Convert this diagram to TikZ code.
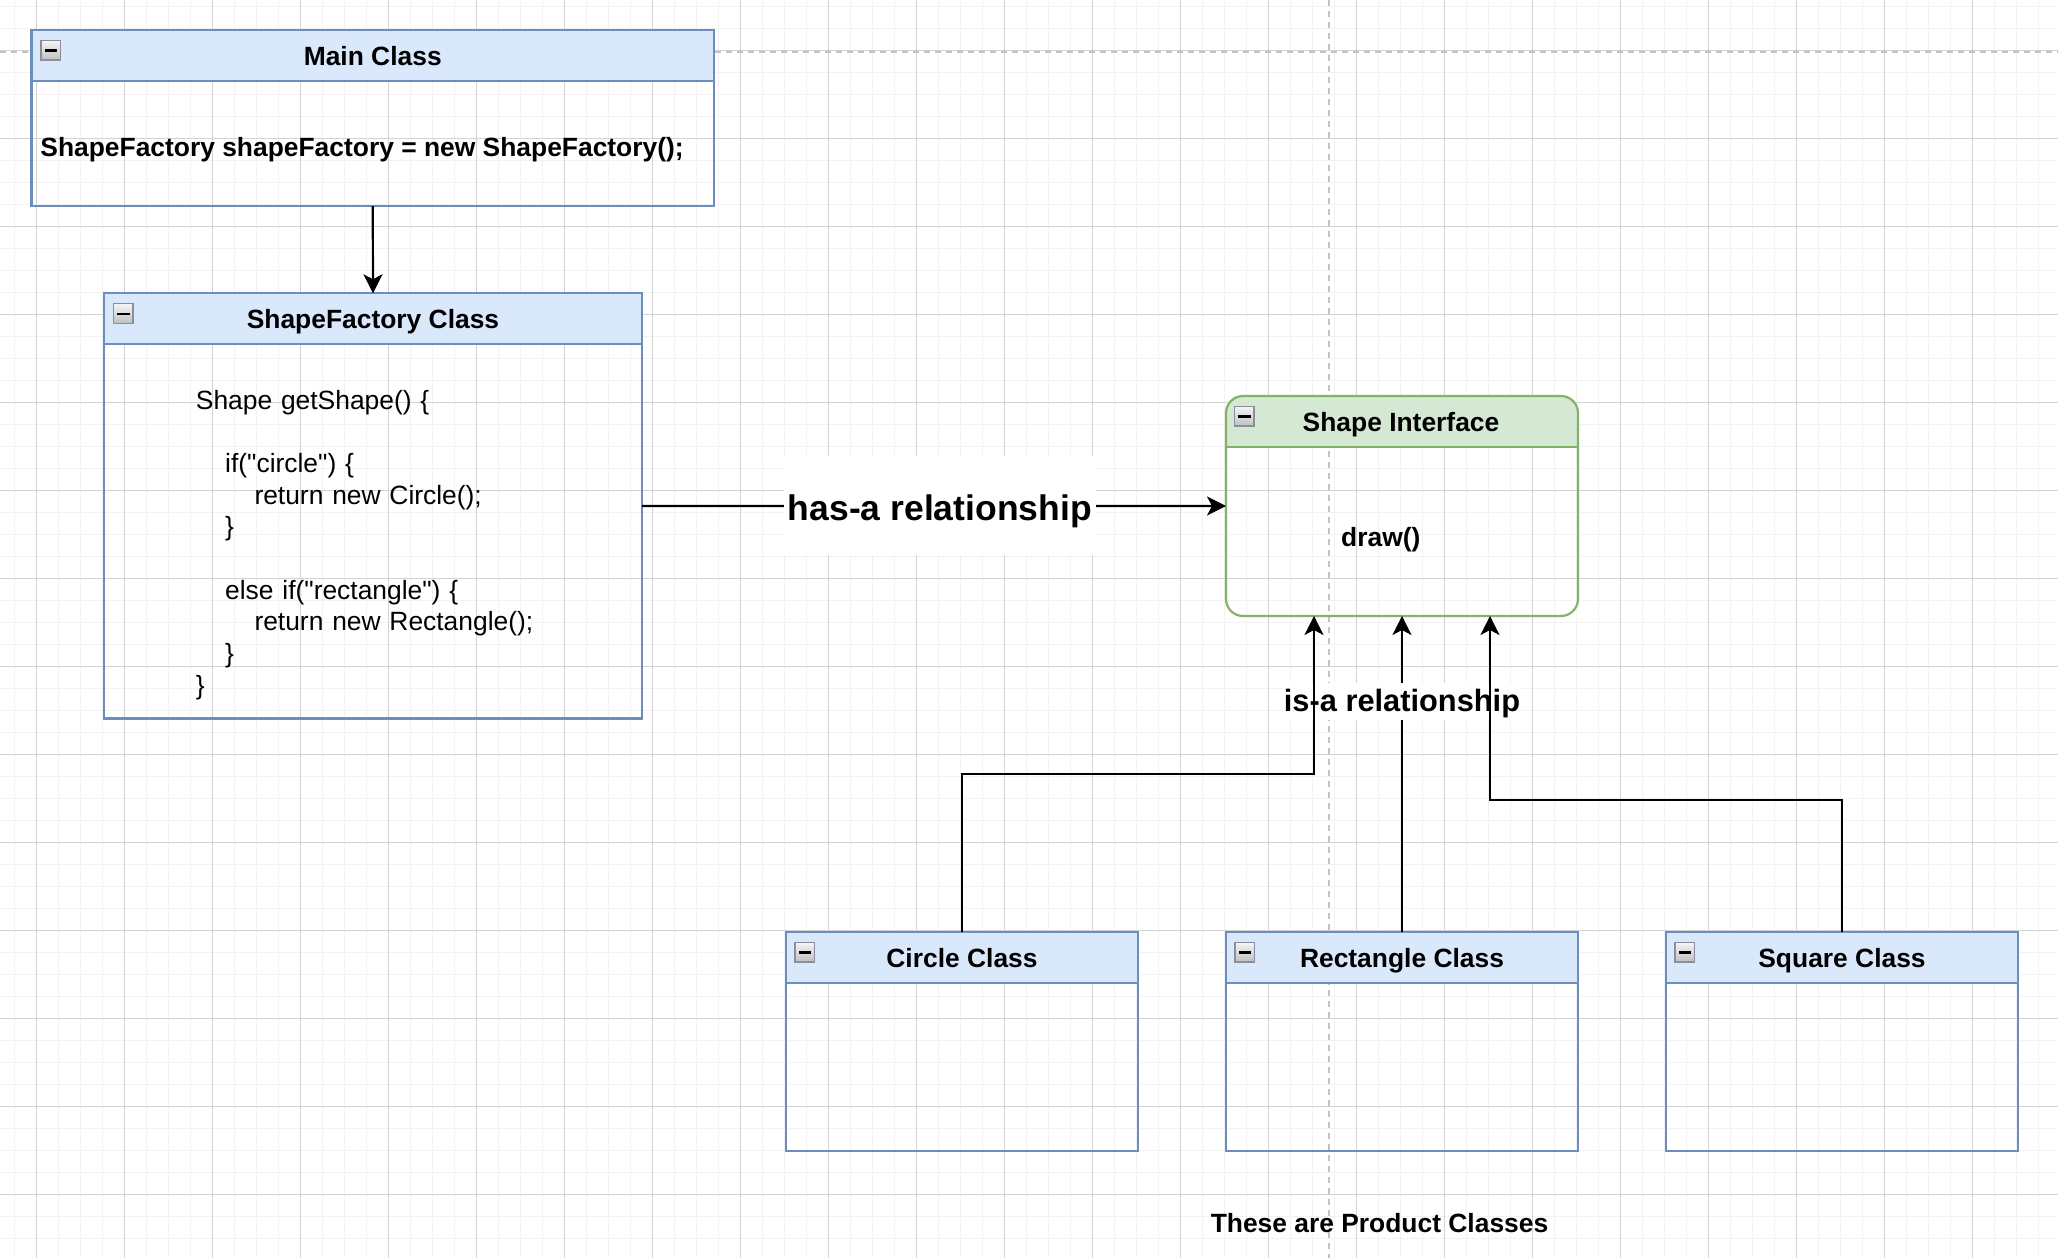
\documentclass[tikz,border=0pt]{standalone}
\usepackage{fontspec}
\setmainfont{Liberation Sans}
\usetikzlibrary{arrows.meta}
\definecolor{bfill}{HTML}{DAE8FC}
\definecolor{bline}{HTML}{6C8EBF}
\definecolor{gfill}{HTML}{D5E8D4}
\definecolor{gline}{HTML}{82B366}
\definecolor{gridmin}{HTML}{F2F2F2}
\definecolor{gridmaj}{HTML}{D3D3D3}
\definecolor{pagebrk}{HTML}{C2C2C2}
\definecolor{iconline}{HTML}{8A8FA0}
\begin{document}
\begin{tikzpicture}[x=1pt,y=-1pt,
  clsbox/.style={draw=bline, line width=2.2pt, inner sep=0pt, outer sep=0pt},
  clshdr/.style={clsbox, fill=bfill, minimum height=50.6pt, anchor=north,
    text height=24pt, text depth=3.6pt, font=\fontsize{26.4}{31.7}\selectfont\bfseries},
  boldtxt/.style={inner sep=0pt, font=\fontsize{26.4}{31.7}\selectfont\bfseries},
  arr/.style={line width=2.2pt, -{Stealth[length=19pt,width=19pt,inset=5pt]}},
  haslbl/.style={fill=white, inner sep=0pt, minimum width=312pt, minimum height=99pt,
    text height=35pt, text depth=5.6pt, font=\fontsize{35.5}{40}\selectfont\bfseries},
  isalbl/.style={fill=white, inner sep=0pt, minimum width=238pt, minimum height=37pt,
    text height=24pt, text depth=5pt, font=\fontsize{30.8}{36}\selectfont\bfseries},
  minusicon/.pic={
    \draw[iconline, line width=1.3pt, top color=gray!8, bottom color=gray!50] (0,0) rectangle (19.5,19.5);
    \fill[black] (3.5,8.8) rectangle (16,11);
  }
]
\useasboundingbox (0,0) rectangle (2058,1258);
\fill[white] (0,0) rectangle (2058,1258);
% grid
\foreach \i in {0,...,92} \draw[gridmin, line width=1.6pt] ({14.3+22*\i},0) -- ({14.3+22*\i},1258);
\foreach \i in {0,...,56} \draw[gridmin, line width=1.6pt] (0,{6.3+22*\i}) -- (2058,{6.3+22*\i});
\foreach \i in {0,...,22} \draw[gridmaj, line width=1pt] ({36.3+88*\i},0) -- ({36.3+88*\i},1258);
\foreach \i in {0,...,13} \draw[gridmaj, line width=1pt] (0,{50.3+88*\i}) -- (2058,{50.3+88*\i});
% page breaks
\draw[pagebrk, line width=2pt, dash pattern=on 6pt off 5pt] (0,52.3) -- (2058,52.3);
\draw[pagebrk, line width=2pt, dash pattern=on 6pt off 5pt] (1329,0) -- (1329,1258);

% Main class
\node[clsbox, minimum width=682.5pt, minimum height=176pt] (main) at (372.75,118) {};
\node[clshdr, minimum width=682.5pt] (mainH) at (main.north) {Main Class};
\pic at ([xshift=9.5pt,yshift=-10.5pt]mainH.north west) {minusicon};
\node[boldtxt, anchor=base west] (mainTxt) at (40.2,156.5) {ShapeFactory shapeFactory = new ShapeFactory();};

% ShapeFactory class
\node[clsbox, minimum width=538pt, minimum height=425.2pt] (sf) at (373,505.9) {};
\node[clshdr, minimum width=538pt] (sfH) at (sf.north) {ShapeFactory Class};
\pic at ([xshift=9.5pt,yshift=-10.5pt]sfH.north west) {minusicon};
\node[inner sep=0pt, anchor=base west, text width=400pt, align=left,
  font=\fontsize{26.4}{31.68}\selectfont] (sfTxt) at (195.7,409)
  {Shape getShape() \{\\
   \strut\\
   \hspace*{29.3pt}if(\textquotedbl circle\textquotedbl) \{\\
   \hspace*{58.6pt}return new Circle();\\
   \hspace*{29.3pt}\}\\
   \strut\\
   \hspace*{29.3pt}else if(\textquotedbl rectangle\textquotedbl) \{\\
   \hspace*{58.6pt}return new Rectangle();\\
   \hspace*{29.3pt}\}\\
   \}};

% Shape interface
\begin{scope}
  \clip[rounded corners=17pt] (1226,396) rectangle (1578,616);
  \fill[gfill] (1226,396) rectangle (1578,446.6);
\end{scope}
\node[draw=gline, line width=2.2pt, rounded corners=17pt, inner sep=0pt, outer sep=0pt,
  minimum width=352pt, minimum height=220pt] (iface) at (1402,506) {};
\draw[gline, line width=2.2pt] ([yshift=-50.6pt]iface.north west) -- ([yshift=-50.6pt]iface.north east);
\node[boldtxt, anchor=base] (ifaceT) at (1401,431.5) {Shape Interface};
\pic at ([xshift=8.5pt,yshift=-10.5pt]iface.north west) {minusicon};
\node[boldtxt, anchor=base west] (drawTxt) at (1341,546.5) {draw()};

% Product classes
\node[clsbox, minimum width=352pt, minimum height=219pt] (circle) at (962,1041.5) {};
\node[clshdr, minimum width=352pt] (circleH) at (circle.north) {Circle Class};
\pic at ([xshift=9pt,yshift=-10.5pt]circleH.north west) {minusicon};

\node[clsbox, minimum width=352pt, minimum height=219pt] (rect) at (1402,1041.5) {};
\node[clshdr, minimum width=352pt] (rectH) at (rect.north) {Rectangle Class};
\pic at ([xshift=9pt,yshift=-10.5pt]rectH.north west) {minusicon};

\node[clsbox, minimum width=352pt, minimum height=219pt] (square) at (1842,1041.5) {};
\node[clshdr, minimum width=352pt] (squareH) at (square.north) {Square Class};
\pic at ([xshift=9pt,yshift=-10.5pt]squareH.north west) {minusicon};

\node[boldtxt, anchor=base] (prodTxt) at (1379.5,1232) {These are Product Classes};

% connectors
\draw[arr] (main.south) -- (sfH.north);
\draw[arr] (sf.east) -- node[haslbl, pos=0.51] (hasLbl) {has-a relationship} (iface.west);
\draw[arr] (rect.north) -- node[isalbl, pos=0.7294] (isaLbl) {is-a relationship} (iface.south);
\coordinate (ciIn) at ([xshift=-88pt]iface.south);
\coordinate (sqIn) at ([xshift=88pt]iface.south);
\coordinate (ciBend) at ([yshift=-158.3pt]ciIn);
\coordinate (sqBend) at ([yshift=-184pt]sqIn);
\draw[arr] (circle.north) |- (ciBend) -- (ciIn);
\draw[arr] (square.north) |- (sqBend) -- (sqIn);
\end{tikzpicture}
\end{document}
